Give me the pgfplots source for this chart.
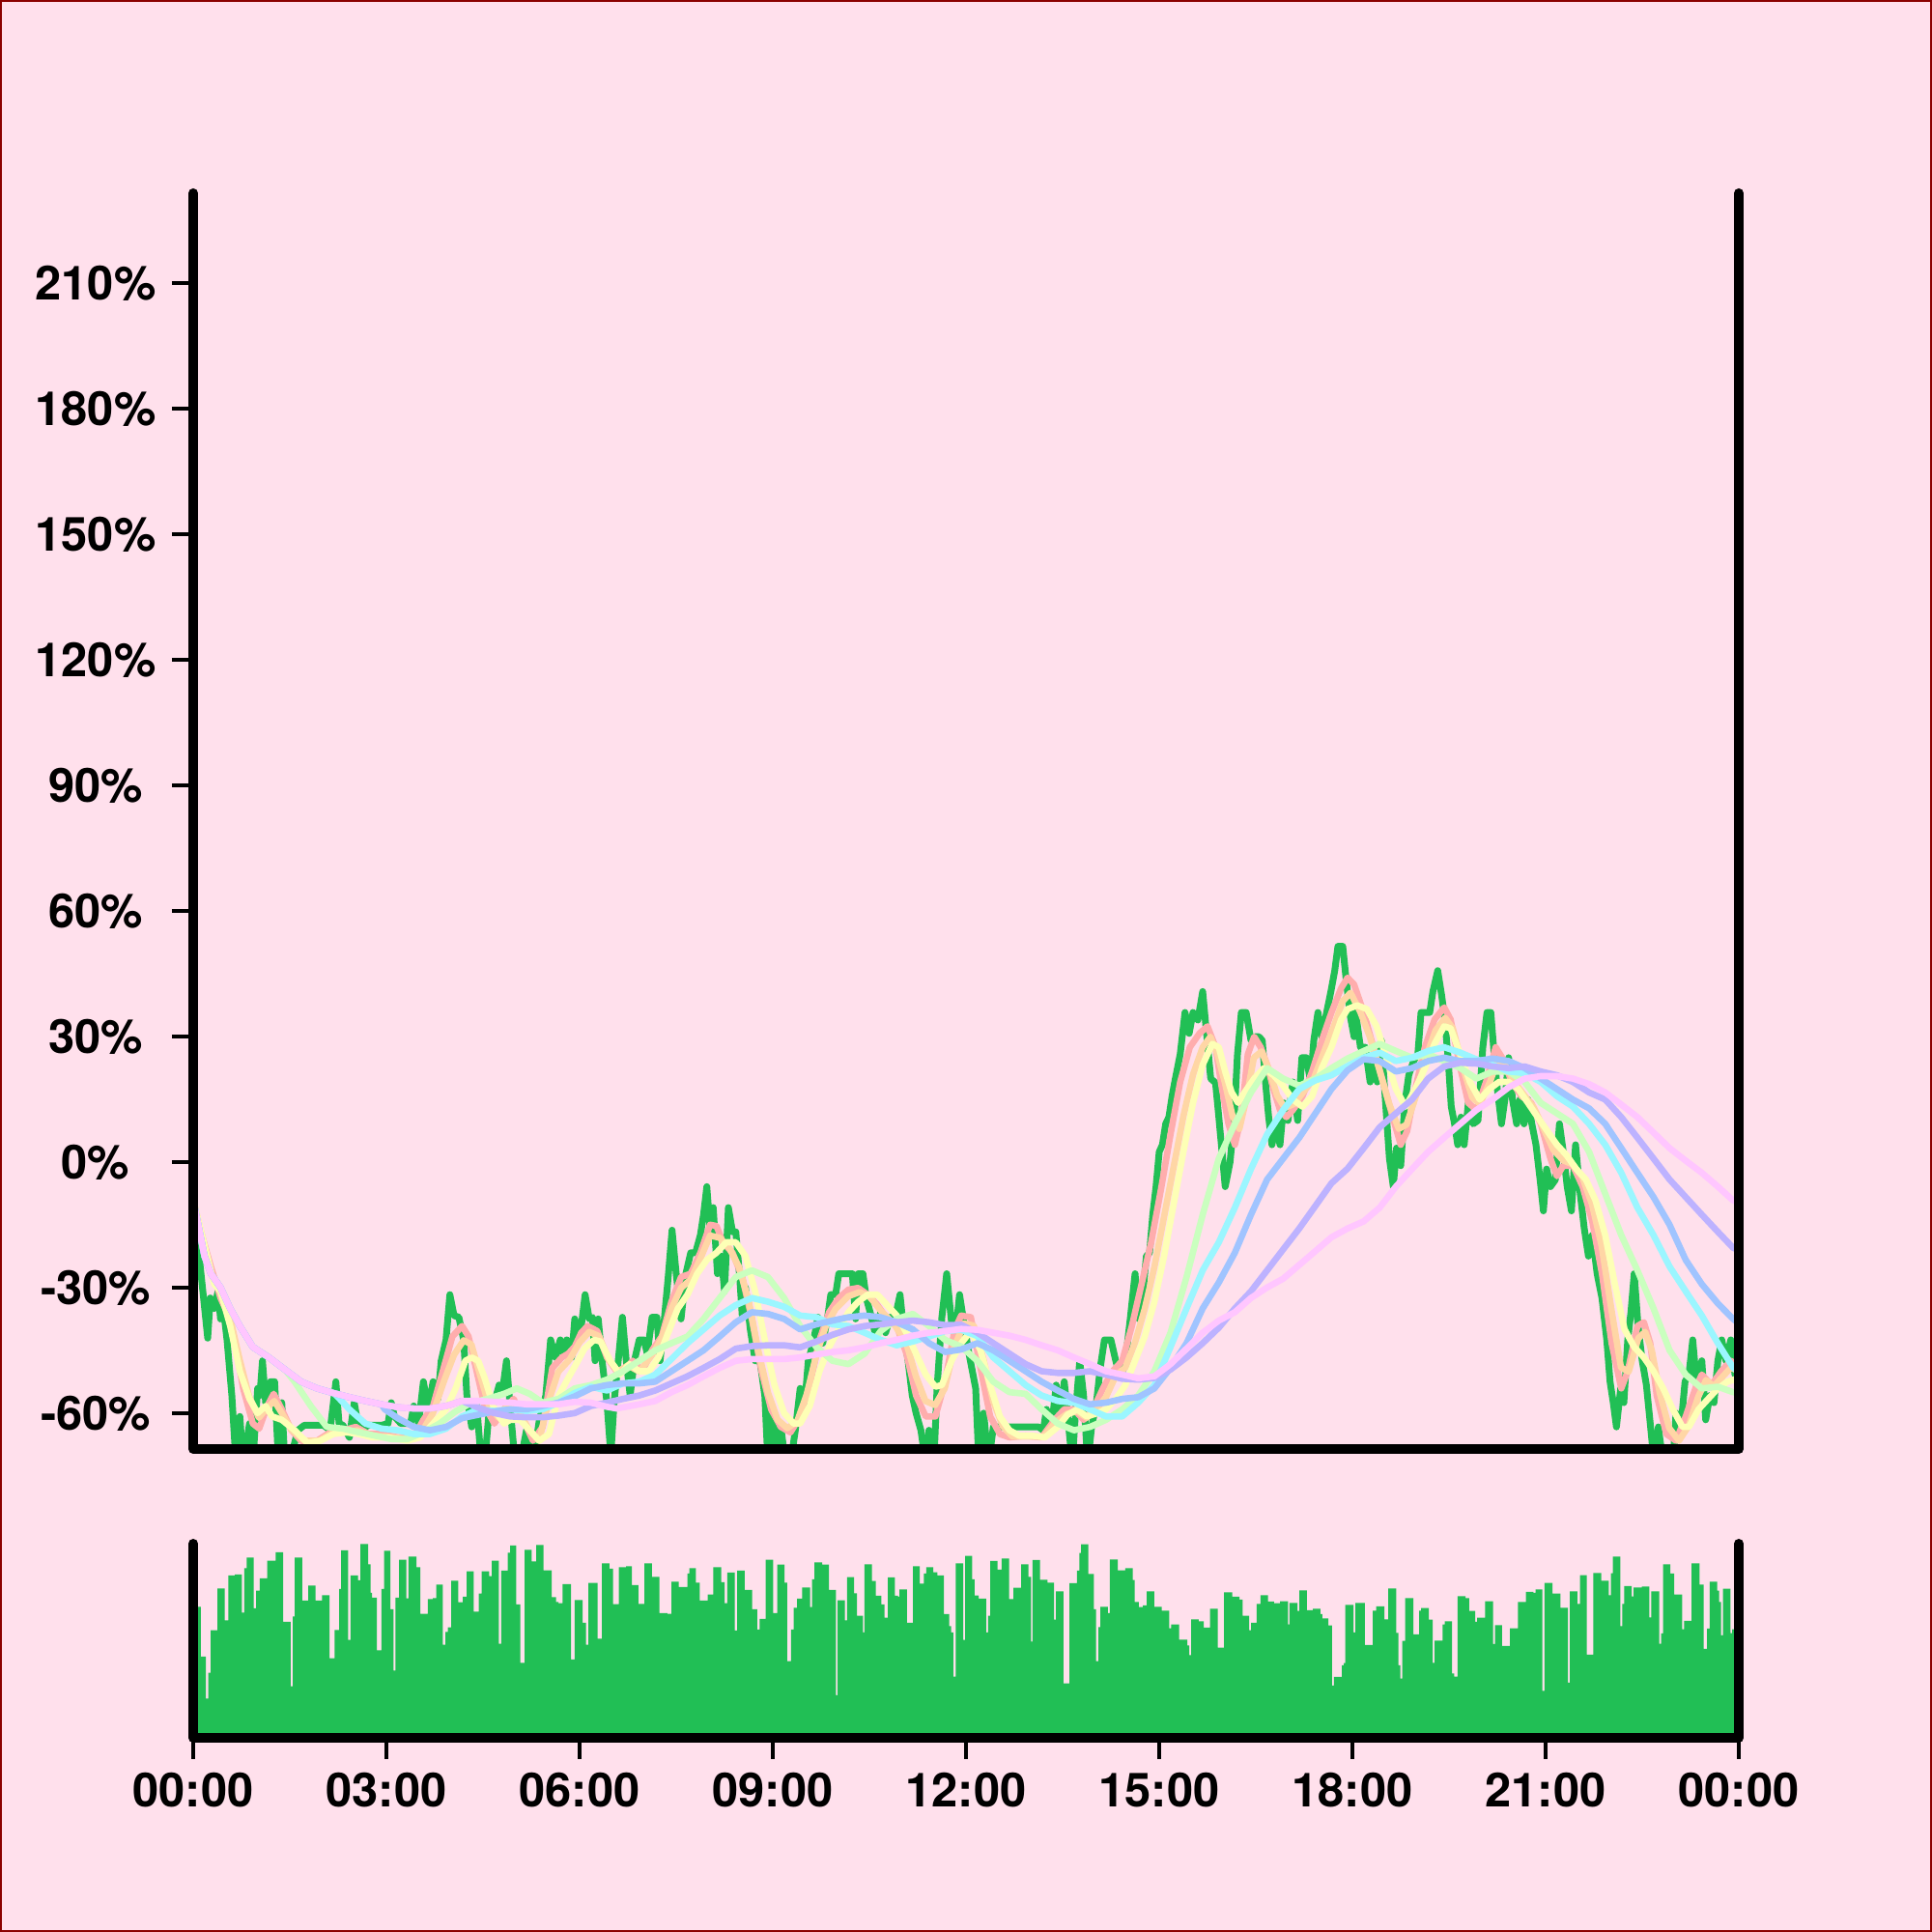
\documentclass[border=0pt]{standalone}
\usepackage{fontspec}
\setmainfont{TeX Gyre Heros}
\usepackage{pgfplots}
\pgfplotsset{compat=1.18}
\definecolor{bg}{HTML}{FFE0EC}
\definecolor{frame}{HTML}{8B0000}
\definecolor{pricegreen}{HTML}{21BF55}
\definecolor{maA}{HTML}{FFADAD}
\definecolor{maB}{HTML}{FFD6A5}
\definecolor{maC}{HTML}{FDFFB6}
\definecolor{maD}{HTML}{CAFFBF}
\definecolor{maE}{HTML}{9BF6FF}
\definecolor{maF}{HTML}{A0C4FF}
\definecolor{maG}{HTML}{BDB2FF}
\definecolor{maH}{HTML}{FFC6FF}
\newcommand{\lblfont}{\fontsize{12.2}{15}\selectfont\bfseries}
\pgfplotsset{ma/.style={line width=1.65pt, line join=round}}
\begin{document}
\begin{tikzpicture}
\useasboundingbox (0pt,0pt) rectangle (500pt,500pt);
\fill[bg] (0pt,0pt) rectangle (500pt,500pt);
\draw[frame, line width=0.5pt] (0.25pt,0.25pt) rectangle (499.75pt,499.75pt);
\begin{axis}[name=main, at={(50pt,125pt)}, anchor=south west, scale only axis,
  width=400pt, height=325pt, xmin=0, xmax=1600, ymin=-68.47, ymax=231.5,
  enlargelimits=false, axis line style={draw=none}, clip mode=individual,
  xtick=\empty, ytick={-60,-30,0,30,60,90,120,150,180,210},
  yticklabels={-60\%,-30\%,0\%,30\%,60\%,90\%,120\%,150\%,180\%,210\%},
  ytick pos=left, tick align=outside, major tick length=5.5pt,
  major tick style={line width=1pt, black},
  yticklabel style={font=\lblfont, anchor=center, xshift=-19.75pt}]
\addplot[pricegreen, line width=1.75pt, line join=round] coordinates {
(0,-9)(10,-30.8)(15,-42)(17.7,-32.4)(21.7,-34.9)(25.7,-30.8)(28.3,-37.4)(31.7,-35.8)(35,-42.4)(40,-55.7)(44.3,-72)(48.3,-60.7)(51.7,-72)(58.3,-62.4)(61.7,-72)(66.7,-54)(69,-55.7)(71.7,-47.4)(75,-57.4)(80,-52.4)(84.3,-52.4)(88.3,-72)(91.7,-57.4)(95,-72)(101.7,-70)(108.3,-64)(115,-62.8)(121.7,-62.8)(128.3,-62.8)(135,-62.8)(141.7,-64)(147.7,-52.4)(151,-62.4)(155,-62.8)(161.7,-65.7)(166.7,-57.4)(171.7,-64)(181.7,-62.8)(195,-62.8)(201.7,-62.4)(205,-57.4)(208.3,-60.7)(215,-62.4)(225,-62.4)(228.3,-58.2)(233.3,-62.4)(238.3,-52.4)(243.3,-59)(248.3,-52.4)(253.3,-56.5)(256.7,-47.4)(261.7,-42.4)(265.7,-31.6)(270,-36.6)(275,-37)(280,-42.4)(283.3,-55.7)(288.3,-63.2)(293.3,-57.4)(298.3,-72)(301.7,-72)(306.7,-58.2)(311.7,-57.4)(316.7,-53.2)(320,-54.9)(324.3,-47.4)(328.3,-59)(333.3,-72)(338.3,-72)(345,-64)(351.7,-72)(358.3,-61.5)(365,-55.7)(370,-42.4)(375,-46.6)(380,-42.4)(383.3,-45.7)(386.7,-42.4)(391.7,-46.6)(395,-37.4)(400,-42.4)(405.7,-31.6)(410,-37.4)(413.3,-37)(416,-47.4)(419.3,-37.4)(423.3,-47.4)(428.3,-57.4)(432.3,-70)(435.7,-57.4)(440,-47.4)(444.3,-37)(448.3,-47.4)(452.3,-55.7)(456.7,-47.4)(461.7,-42.4)(466.7,-42.4)(470,-45.7)(475,-37)(480,-37)(483.3,-47.4)(487.7,-37.4)(491.7,-27.4)(495.7,-16.2)(500,-26.6)(505,-37.4)(510,-26.6)(515,-21.6)(520,-21.6)(525,-17.4)(528.3,-12.5)(531.7,-5.8)(535,-15.8)(538.3,-10.8)(542.7,-26.6)(546.7,-22.4)(550,-30.8)(554,-10.8)(558.3,-16.6)(561.7,-16.6)(565.7,-27.4)(568.3,-36.6)(571.7,-29.9)(576.7,-39.9)(581.7,-47.4)(586.7,-47.4)(591.7,-55.7)(595,-72)(600,-59.9)(603.3,-72)(608.3,-63.2)(613.3,-72)(618.3,-72)(623.3,-64)(628.3,-54)(632.3,-59.9)(636.7,-47.4)(641.7,-43.2)(646.7,-37)(651.7,-43.2)(656.7,-37)(660,-31.6)(665,-31.6)(668.3,-26.6)(673.3,-26.6)(678.3,-26.6)(682.3,-26.6)(685.7,-37.4)(688.3,-26.6)(693.3,-26.6)(696.7,-32.4)(701.7,-36.6)(706.7,-41.6)(711.7,-35.8)(716.7,-40.7)(721.7,-37)(726.7,-37)(731.7,-31.6)(735.7,-40.7)(740,-47.4)(744.3,-55.7)(748.3,-59.9)(753.3,-64)(758.3,-72)(761.7,-64)(766.7,-72)(770,-54)(775,-37)(780,-26.6)(785,-38.2)(790,-39.1)(793.3,-31.6)(798.3,-39)(803.3,-46)(810,-54)(813.3,-72)(818.3,-59.9)(823.3,-72)(828.3,-63.2)(835,-63.2)(845,-63.2)(855,-63.2)(865,-63.2)(875,-63.2)(880,-64)(883.3,-59)(888.3,-64)(893.3,-53.2)(897.7,-60)(901.7,-52.4)(905,-60)(910,-72)(913.3,-60)(917.7,-47.4)(921.7,-55.7)(926,-72)(930,-63.2)(935,-57.4)(939,-49)(943.3,-42.4)(946.7,-42.4)(950,-42.4)(955,-47.4)(960,-51.5)(965,-47.4)(970,-37.4)(975,-26.6)(979,-37.4)(983.3,-30.8)(986.7,-22.4)(990,-21.6)(993.3,-12.5)(996.7,-5.8)(1000,2.5)(1003.3,4.2)(1006.7,9.2)(1010,10.8)(1013.3,15.8)(1016.7,20)(1021.7,25.8)(1026.7,35.8)(1031,30.8)(1035,35.8)(1040,34)(1045,40.8)(1049,30.8)(1053.3,20)(1058.3,19)(1061.7,10.8)(1065,2.5)(1068.3,-5.8)(1073.3,0)(1077.7,10.8)(1081,25.8)(1085,35.8)(1090,35.8)(1095,29.1)(1099,30)(1103.3,30)(1106.7,29.1)(1110,19.2)(1113.3,10.8)(1116.7,4.2)(1121,9.2)(1125,4.2)(1129,14.2)(1133.3,10)(1138.3,19.2)(1143.3,10)(1147.7,25)(1152.3,25)(1156.7,19.2)(1160,29.1)(1164.3,35.8)(1168.3,30)(1173.3,35.8)(1177.7,40.8)(1181.7,45.8)(1185,51.6)(1190,51.6)(1193.3,44.1)(1197.7,35)(1201.7,30)(1203.3,35.8)(1208.3,27.5)(1213.3,27.5)(1218.3,19.2)(1221.7,24.2)(1225.7,19.2)(1230,29.1)(1234.3,14.2)(1238.3,0.9)(1242.3,-5.8)(1245.7,3.4)(1250,-0.8)(1254.3,14.2)(1258.3,20.8)(1263.3,24.2)(1267.7,25.8)(1271,35.8)(1275,35.8)(1280,35.8)(1283.3,40.8)(1288.3,45.8)(1292.3,40)(1295.7,34.1)(1299,25)(1302.3,13.3)(1305.7,9.2)(1309,4.2)(1312.3,10.8)(1315.7,4.2)(1320,14.2)(1325,9.2)(1330,10)(1335,27.5)(1339.3,35.8)(1343.3,35.8)(1346.7,25.8)(1350,17.5)(1354.3,9.2)(1358.3,15.8)(1361.7,25)(1365.7,15)(1370,9.2)(1373.3,15)(1377.7,9.2)(1381.7,15)(1385.7,9.2)(1390,4.2)(1394.3,-4.2)(1397.7,-11.6)(1401,-1.6)(1405,-5.8)(1410,-4.2)(1414.3,9.2)(1418.3,2.5)(1422.3,-5.8)(1426.7,-11.6)(1431,4.2)(1435,-5.8)(1440,-15.8)(1444.3,-22.4)(1448.3,-17.4)(1453.3,-26.6)(1458.3,-32.4)(1463.3,-42.4)(1466.7,-52.4)(1470,-57.4)(1473.3,-63.2)(1477.7,-54)(1481,-57.4)(1485,-42.4)(1488.3,-35.8)(1491.7,-26.6)(1495.7,-39.1)(1500,-47.4)(1504.3,-53.2)(1508.3,-62.4)(1512.3,-72)(1516.7,-63.2)(1521.7,-72)(1526.7,-72)(1531.7,-72)(1535,-59.9)(1540,-63.2)(1544.3,-52.4)(1548.3,-50.7)(1552.3,-42.4)(1556.7,-54)(1561.7,-47.4)(1565.7,-61.5)(1570,-55.7)(1574.3,-57.4)(1578.3,-47.4)(1582.3,-42.4)(1586.7,-47.4)(1591.7,-42.4)(1596,-50.7)(1600,-51)
};
\addplot[maA, ma] coordinates {
(0,-9)(6,-15)(18.3,-24.9)(28.3,-32.4)(35,-35.8)(43.3,-43.2)(51.7,-54)(61.7,-62.4)(68.3,-63.6)(76.7,-58.2)(83.3,-55.3)(91.7,-59)(101.7,-64)(111.7,-66.5)(128.3,-66.5)(145,-64)(155,-64)(168.3,-63.2)(181.7,-64.9)(195,-64.9)(211.7,-65.7)(228.3,-65.7)(238.3,-61.5)(248.3,-58.2)(258.3,-49.9)(268.3,-41.6)(278.3,-39.1)(285,-41.6)(291.7,-48.2)(301.7,-58.2)(311.7,-62.4)(321.7,-59)(331.7,-56.5)(341.7,-61.5)(351.7,-66.5)(361.7,-63.2)(371.7,-49.1)(381.7,-46.6)(388.3,-45.7)(395,-44)(401.7,-40.7)(408.3,-39.1)(418.3,-40.3)(428.3,-46.6)(438.3,-49.9)(448.3,-49.1)(455,-47.4)(465,-49.9)(475,-44.9)(485,-41.6)(495,-33.3)(505,-27.4)(515,-26.6)(525,-21.6)(535,-14.9)(541.7,-15.2)(548.3,-19.1)(558.3,-21.6)(568.3,-27.4)(578.3,-37.4)(588.3,-49.9)(598.3,-59)(608.3,-63.2)(618.3,-64.5)(628.3,-60.7)(638.3,-53.2)(648.3,-42.4)(658.3,-35.8)(668.3,-32.4)(678.3,-30.4)(688.3,-30)(698.3,-31.6)(708.3,-34.1)(718.3,-37.4)(728.3,-39.1)(738.3,-45.7)(748.3,-55.7)(758.3,-60.7)(768.3,-60.7)(778.3,-52.4)(788.3,-39.9)(795,-36.6)(805,-37)(815,-49.1)(825,-60.7)(835,-64.9)(845,-65.7)(861.7,-65.3)(878.3,-65.7)(891.7,-61.5)(901.7,-59)(911.7,-59)(921.7,-61.5)(931.7,-59)(941.7,-54)(951.7,-49.9)(961.7,-47.4)(971.7,-39.1)(981.7,-29.1)(991.7,-19.1)(1001.7,-6.6)(1011.7,6.7)(1021.7,19.2)(1031.7,27.5)(1041.7,30.8)(1050,32.5)(1058.3,27.5)(1065,17.5)(1071.7,9.2)(1078.3,4.2)(1085,10.8)(1091.7,25.8)(1098.3,30)(1105,27.5)(1111.7,23.3)(1118.3,17.5)(1125,12.5)(1131.7,10.8)(1138.3,12.5)(1148.3,15.8)(1158.3,21.7)(1168.3,29.1)(1178.3,35.8)(1188.3,41.6)(1195,44.1)(1201.7,42.5)(1211.7,35.8)(1221.7,27.5)(1231.7,19.2)(1241.7,10.8)(1250,4.2)(1256.7,7.5)(1265,17.5)(1275,27.5)(1285,34.1)(1295,37)(1301.7,34.1)(1311.7,22.5)(1320,14.2)(1328.3,12.5)(1338.3,19.2)(1348.3,27.5)(1355,25)(1365,19.2)(1375,15.8)(1385,14.2)(1395,9.2)(1405,0.9)(1411.7,-3.3)(1418.3,-0.8)(1428.3,-0.8)(1438.3,-5.8)(1448.3,-14.1)(1458.3,-26.6)(1468.3,-43.2)(1478.3,-54)(1485,-49.9)(1495,-39.1)(1501.7,-38.2)(1508.3,-43.2)(1515,-55.7)(1525,-64.9)(1535,-66.5)(1545,-60.7)(1555,-54)(1561.7,-50.7)(1571.7,-53.2)(1581.7,-49.9)(1591.7,-47.4)(1600,-49)
};
\addplot[maB, ma] coordinates {
(0,-9)(18,-26)(28,-31)(38,-37)(48,-47)(58,-56)(68,-61)(77,-58.5)(84,-57)(92,-60)(102,-64)(115,-66.5)(130,-66.5)(145,-64.5)(158,-64.5)(170,-64)(185,-65.3)(200,-65.5)(220,-66)(235,-65)(248,-60)(260,-52)(270,-46)(280,-42.5)(288,-43.5)(296,-50)(306,-58)(316,-61)(326,-58)(336,-59)(348,-64)(358,-66.5)(368,-57)(378,-50)(390,-47)(400,-43)(410,-40.5)(420,-41.5)(430,-47)(440,-50)(450,-48.5)(462,-50)(475,-46)(485,-42)(495,-35)(505,-30)(515,-28)(525,-23)(535,-17.5)(545,-18)(555,-20.5)(565,-25)(575,-33)(585,-45)(595,-55)(605,-61.5)(615,-63.5)(625,-62)(635,-55.5)(645,-46)(655,-39)(665,-35)(678,-32)(690,-31)(700,-32)(712,-35.5)(725,-38.5)(738,-43)(748,-51)(758,-57)(768,-58)(778,-54)(788,-44)(798,-38.5)(808,-39)(818,-47)(828,-57)(838,-63)(848,-65.5)(865,-65.5)(880,-65.5)(893,-62)(905,-60)(915,-59.5)(925,-61)(935,-59)(945,-56)(955,-51)(965,-49)(975,-43)(985,-35)(995,-25)(1005,-13)(1015,-1)(1025,11)(1035,21)(1045,27.5)(1053,30)(1060,26)(1068,19)(1076,11)(1083,8)(1090,15)(1098,25)(1106,26.5)(1114,22)(1122,16)(1130,13)(1140,14)(1150,17)(1160,20)(1170,26)(1180,32)(1190,38.5)(1198,40.5)(1208,36)(1218,30)(1228,22)(1238,14)(1248,8)(1256,9)(1266,16)(1276,25)(1286,31.5)(1296,34.5)(1304,32)(1314,23)(1324,15.5)(1332,14)(1342,19)(1350,24)(1358,23.5)(1368,19)(1378,16)(1388,13)(1398,8)(1408,3)(1418,0.5)(1428,-0.5)(1438,-3.5)(1448,-10)(1458,-20)(1468,-35)(1478,-49)(1486,-50)(1496,-42)(1503,-40.5)(1510,-45)(1518,-55)(1528,-63.5)(1538,-66.5)(1548,-63)(1558,-56)(1566,-52)(1574,-53.5)(1584,-51)(1592,-49)(1600,-50)
};
\addplot[maC, ma] coordinates {
(0,-9)(21.7,-29.1)(28.3,-30.8)(38.3,-39.1)(48.3,-49.9)(58.3,-56.5)(66.7,-59.9)(75,-58.2)(81.7,-60.7)(91.7,-61.5)(105,-64)(118.3,-67)(131.7,-66.5)(145,-64.9)(158.3,-64.5)(171.7,-64.9)(185,-65.7)(201.7,-65.7)(221.7,-66.5)(235,-65.7)(248.3,-62.4)(261.7,-59)(271.7,-54)(281.7,-47.4)(288.3,-46.6)(295,-47.4)(301.7,-51.5)(311.7,-59)(321.7,-62.4)(328.3,-61.5)(338.3,-61.5)(348.3,-64)(358.3,-66.5)(368.3,-64.9)(378.3,-55.7)(388.3,-51.5)(398.3,-47.4)(405,-44.5)(415,-42.4)(421.7,-42.8)(431.7,-47.4)(441.7,-50.7)(451.7,-48.2)(461.7,-49.9)(471.7,-49.9)(481.7,-46.6)(491.7,-40.7)(501.7,-34.9)(511.7,-31.6)(521.7,-26.6)(531.7,-23.3)(541.7,-21.6)(551.7,-19.1)(561.7,-19.1)(571.7,-22.4)(581.7,-30.8)(591.7,-42.4)(601.7,-53.2)(611.7,-59.9)(621.7,-62.4)(628.3,-62.4)(638.3,-58.2)(648.3,-49.9)(658.3,-44.1)(668.3,-39.9)(678.3,-35.8)(688.3,-33.3)(698.3,-31.6)(708.3,-31.6)(718.3,-34.1)(728.3,-36.6)(738.3,-40.7)(748.3,-45.7)(758.3,-50.7)(768.3,-53.6)(775,-53.2)(785,-47.4)(795,-43.2)(805,-40.3)(815,-44.9)(825,-53.2)(835,-60.7)(845,-64)(855,-65.3)(868.3,-65.3)(881.7,-65.7)(895,-63.2)(905,-60.3)(915,-59)(925,-60.7)(935,-60)(945,-59)(955,-56.5)(965,-53.2)(975,-47.4)(985,-41.6)(995,-33.3)(1005,-22.4)(1015,-9.9)(1025,2.5)(1035,14.2)(1045,23.3)(1055,28.3)(1061.7,27.5)(1068.3,21.7)(1075,16.7)(1081.7,14.2)(1088.3,16.7)(1098.3,20)(1108.3,22.5)(1118.3,20.8)(1128.3,18.3)(1138.3,15)(1148.3,13.3)(1158.3,15.8)(1168.3,22.5)(1178.3,27.5)(1188.3,34.1)(1195,36.6)(1205,37.5)(1215,36.6)(1225,32.5)(1235,25)(1245,17.5)(1255,13.3)(1265,17.5)(1275,22.5)(1285,28.3)(1295,32.5)(1301.7,32)(1311.7,25.8)(1321.7,19.2)(1331.7,15)(1341.7,17.5)(1351.7,19.2)(1361.7,19.2)(1371.7,17.5)(1381.7,14.2)(1391.7,10.8)(1401.7,7.5)(1411.7,4.2)(1421.7,1.7)(1431.7,-1.6)(1441.7,-4.1)(1451.7,-9.1)(1461.7,-17.4)(1471.7,-29.1)(1481.7,-39.9)(1491.7,-44.1)(1501.7,-46.6)(1511.7,-49.9)(1521.7,-54)(1531.7,-59)(1541.7,-63.2)(1548.3,-63.2)(1558.3,-59)(1568.3,-56.5)(1578.3,-54)(1588.3,-52.4)(1600,-51.5)
};
\addplot[maD, ma] coordinates {
(0,-9)(11.7,-22.4)(18.3,-26.6)(28.3,-29.9)(38.3,-34.9)(48.3,-39.1)(61.7,-44.1)(78.3,-46.6)(95,-49.5)(105,-52.4)(121.7,-58.2)(138.3,-63.2)(155,-63.6)(171.7,-64.5)(188.3,-65.3)(205,-66.1)(221.7,-66.1)(238.3,-64.5)(255,-62.4)(271.7,-59.5)(288.3,-57.4)(305,-56.5)(321.7,-55.3)(335,-54)(348.3,-55.3)(361.7,-57.4)(378.3,-56.5)(395,-54)(411.7,-53.2)(428.3,-51.9)(445,-49.9)(461.7,-47.4)(478.3,-44.9)(495,-43.2)(511.7,-41.6)(528.3,-37.4)(545,-32.4)(561.7,-27.4)(578.3,-25.8)(595,-27.4)(611.7,-32.4)(628.3,-39.1)(645,-44.1)(661.7,-47.4)(678.3,-48.2)(695,-45.7)(711.7,-40.3)(728.3,-37.4)(745,-36.2)(761.7,-39.1)(778.3,-42.4)(795,-44)(811.7,-47.4)(828.3,-52.4)(845,-54.9)(861.7,-55.3)(878.3,-59)(895,-62.4)(911.7,-64)(928.3,-63.2)(945,-61.5)(961.7,-59)(978.3,-55.7)(995,-49.9)(1011.7,-40.7)(1028.3,-27.4)(1045,-12.5)(1061.7,0.9)(1078.3,9.2)(1095,16.7)(1111.7,22.5)(1128.3,20)(1145,18.3)(1161.7,20)(1178.3,22.5)(1195,24.8)(1211.7,26.6)(1228.3,28.3)(1245,26.6)(1261.7,25)(1278.3,25.8)(1295,24.2)(1311.7,22.5)(1328.3,20)(1345,21.7)(1361.7,21.7)(1378.3,19.2)(1395,14.2)(1411.7,11.7)(1428.3,9.2)(1445,2.5)(1461.7,-7.5)(1478.3,-17.4)(1495,-25.8)(1511.7,-34.9)(1528.3,-44.9)(1545,-50.7)(1561.7,-54)(1578.3,-53.6)(1594,-54.9)(1600,-55)
};
\addplot[maE, ma] coordinates {
(0,-9)(11.7,-22.4)(18.3,-26.6)(28.3,-29.9)(38.3,-34.9)(48.3,-39.1)(61.7,-44.1)(78.3,-46.6)(95,-49.5)(111.7,-52.4)(128.3,-54)(145,-55.1)(148.3,-55.7)(161.7,-59)(178.3,-62.4)(195,-63.6)(211.7,-64)(228.3,-64.9)(245,-64.9)(261.7,-63.6)(278.3,-60.7)(295,-59)(311.7,-59.4)(328.3,-59)(345,-59.4)(361.7,-59)(378.3,-57.4)(395,-55.1)(411.7,-53.6)(428.3,-54.5)(445,-52.8)(461.7,-52.4)(478.3,-50.7)(495,-47)(511.7,-43.2)(528.3,-39.9)(545,-36.6)(561.7,-34.1)(578.3,-32.4)(595,-33.3)(611.7,-34.5)(628.3,-36.6)(645,-37)(661.7,-38.7)(678.3,-39.1)(695,-40.7)(711.7,-42.4)(728.3,-43.7)(745,-42.8)(761.7,-41.6)(778.3,-40.3)(795,-40)(811.7,-41.5)(828.3,-46.6)(845,-49.9)(861.7,-53.2)(878.3,-55.7)(895,-57)(911.7,-57.4)(928.3,-59)(945,-60.7)(961.7,-60.7)(978.3,-57.4)(995,-53.2)(1011.7,-44.1)(1028.3,-34.9)(1045,-25.8)(1061.7,-19.1)(1078.3,-10.8)(1095,-1.6)(1111.7,6.7)(1128.3,12.5)(1145,17.5)(1161.7,19.6)(1178.3,20.8)(1195,23)(1211.7,25)(1228.3,26.2)(1245,24.2)(1261.7,25)(1278.3,26.6)(1295,27.5)(1311.7,26.2)(1328.3,24.6)(1345,23.3)(1361.7,21.7)(1378.3,21.3)(1395,19.2)(1411.7,15.8)(1428.3,13.3)(1445,9.2)(1461.7,4.2)(1478.3,-2.5)(1495,-10.8)(1511.7,-17.4)(1528.3,-24.9)(1545,-30.8)(1561.7,-36.6)(1578.3,-43.2)(1594,-49)(1600,-50)
};
\addplot[maF, ma] coordinates {
(0,-9)(11.7,-22.4)(18.3,-26.6)(28.3,-29.9)(38.3,-34.9)(48.3,-39.1)(61.7,-44.1)(78.3,-46.6)(95,-49.5)(111.7,-52.4)(128.3,-54)(145,-55.1)(161.7,-56.1)(178.3,-57)(195,-57.8)(198.3,-59)(211.7,-61.1)(228.3,-63.2)(245,-64)(261.7,-63.2)(278.3,-61.1)(295,-60.3)(311.7,-59.5)(328.3,-59)(345,-59)(361.7,-58.2)(378.3,-57.4)(395,-55.9)(411.7,-54)(428.3,-53.2)(445,-52.8)(461.7,-52.8)(478.3,-52.4)(495,-49.9)(511.7,-47.4)(528.3,-44.9)(545,-41.6)(561.7,-38.2)(578.3,-35.8)(595,-36.2)(611.7,-37.4)(628.3,-39.9)(645,-38.7)(661.7,-37.8)(678.3,-37)(695,-36.6)(711.7,-37)(728.3,-38.2)(745,-39.9)(761.7,-43.2)(778.3,-45.3)(795,-44.7)(811.7,-43.2)(828.3,-44.9)(845,-47.4)(861.7,-49.9)(878.3,-52.4)(895,-54.5)(911.7,-56.5)(928.3,-57.8)(945,-57.4)(961.7,-56.5)(978.3,-56.1)(995,-54)(1011.7,-49.1)(1028.3,-43.2)(1045,-34.9)(1061.7,-28.7)(1078.3,-21.6)(1095,-12.5)(1111.7,-4.1)(1128.3,0.9)(1145,5.9)(1161.7,11.7)(1178.3,17.5)(1195,22)(1211.7,24.6)(1228.3,24.2)(1245,21.7)(1261.7,22.5)(1278.3,24.2)(1295,25)(1311.7,24.2)(1328.3,24.2)(1345,24.8)(1361.7,24.2)(1378.3,22.5)(1395,20)(1411.7,17.5)(1428.3,15)(1445,12.9)(1461.7,9.2)(1478.3,3.4)(1495,-2.5)(1511.7,-8.3)(1528.3,-14.9)(1545,-23.3)(1561.7,-29.1)(1578.3,-33.7)(1594,-37.4)(1600,-38.5)
};
\addplot[maG, ma] coordinates {
(0,-9)(11.7,-22.4)(18.3,-26.6)(28.3,-29.9)(38.3,-34.9)(48.3,-39.1)(61.7,-44.1)(78.3,-46.6)(95,-49.5)(111.7,-52.4)(128.3,-54)(145,-55.1)(161.7,-56.1)(178.3,-57)(195,-57.8)(211.7,-58.5)(228.3,-58.8)(245,-58.8)(261.7,-58.2)(278.3,-57)(295,-58.6)(311.7,-59.9)(328.3,-60.7)(345,-60.9)(361.7,-60.9)(378.3,-60.5)(395,-59.9)(411.7,-58.2)(428.3,-57.4)(445,-56.5)(461.7,-55.7)(478.3,-54.5)(495,-52.8)(511.7,-51.1)(528.3,-49.1)(545,-47)(561.7,-44.5)(578.3,-43.9)(595,-43.7)(611.7,-43.7)(628.3,-44.2)(645,-42.8)(661.7,-41.2)(678.3,-39.9)(695,-39.1)(711.7,-38.7)(728.3,-38.2)(745,-37.8)(761.7,-38.2)(778.3,-38.9)(795,-38.8)(811.7,-40.7)(828.3,-43.2)(845,-45.7)(861.7,-48.2)(878.3,-49.9)(895,-50.3)(911.7,-50.3)(928.3,-49.9)(945,-50.7)(961.7,-51.7)(978.3,-51.9)(995,-51.5)(1011.7,-49.5)(1028.3,-46.6)(1045,-43.2)(1061.7,-39.5)(1078.3,-34.9)(1095,-30.8)(1111.7,-25.8)(1128.3,-20.8)(1145,-15.8)(1161.7,-10.4)(1178.3,-5)(1195,-1.5)(1211.7,3.4)(1228.3,8.4)(1245,11.7)(1261.7,15)(1278.3,20)(1295,22.9)(1311.7,23.8)(1328.3,23.6)(1345,22.9)(1361.7,22.5)(1378.3,22.9)(1395,21.7)(1411.7,20.8)(1428.3,19.2)(1445,16.7)(1461.7,15)(1478.3,10.8)(1495,5.9)(1511.7,0.9)(1528.3,-4.1)(1545,-8.3)(1561.7,-12.5)(1578.3,-16.6)(1594,-20.4)(1600,-21)
};
\addplot[maH, ma] coordinates {
(0,-9)(11.7,-22.4)(18.3,-26.6)(28.3,-29.9)(38.3,-34.9)(48.3,-39.1)(61.7,-44.1)(78.3,-46.6)(95,-49.5)(111.7,-52.4)(128.3,-54)(145,-55.1)(161.7,-56.1)(178.3,-57)(195,-57.8)(211.7,-58.5)(228.3,-58.8)(245,-58.8)(261.7,-58.2)(278.3,-57)(295,-57)(311.7,-57.2)(328.3,-57.4)(345,-57.8)(361.7,-57.8)(378.3,-57.8)(395,-57.2)(411.7,-57.4)(428.3,-58.4)(438.3,-58.8)(461.7,-57.8)(478.3,-57)(495,-54.9)(511.7,-53.2)(528.3,-51.1)(545,-49.1)(561.7,-47.4)(578.3,-47)(595,-47)(611.7,-47)(628.3,-46.6)(645,-45.9)(661.7,-45.3)(678.3,-44.9)(695,-44.2)(711.7,-43.2)(728.3,-42.4)(745,-41.4)(761.7,-40.7)(778.3,-40.3)(795,-39.8)(811.7,-40)(828.3,-40.7)(845,-41.4)(861.7,-42.4)(878.3,-43.7)(895,-44.9)(911.7,-46.6)(928.3,-48.2)(945,-49.9)(961.7,-50.7)(978.3,-51.6)(995,-51.1)(1011.7,-48.2)(1028.3,-44.5)(1045,-40.7)(1061.7,-37.8)(1078.3,-35.8)(1095,-32.4)(1111.7,-29.9)(1128.3,-27.8)(1145,-24.5)(1161.7,-21.2)(1178.3,-17.9)(1195,-15.8)(1211.7,-14.1)(1228.3,-10.8)(1245,-5.8)(1261.7,-1.6)(1278.3,2.5)(1295,5.9)(1311.7,9.2)(1328.3,12.5)(1345,15)(1361.7,17.9)(1378.3,20)(1395,20.6)(1411.7,20.6)(1428.3,20)(1445,18.7)(1461.7,16.7)(1478.3,13.8)(1495,10.8)(1511.7,7.1)(1528.3,3.4)(1545,0.4)(1561.7,-2.5)(1578.3,-5.8)(1594,-9.1)(1600,-9.6)
};
\end{axis}
\begin{axis}[name=vol, at={(50pt,50.25pt)}, anchor=south west, scale only axis,
  width=400pt, height=50.25pt, xmin=0, xmax=1600, ymin=0, ymax=201,
  enlargelimits=false, axis line style={draw=none}, clip mode=individual,
  ytick=\empty, xtick={0,200,400,600,800,1000,1200,1400,1600},
  xticklabels={00:00,03:00,06:00,09:00,12:00,15:00,18:00,21:00,00:00},
  xtick pos=bottom, tick align=outside, major tick length=5.5pt,
  major tick style={line width=1pt, black},
  xticklabel style={font=\lblfont}]
\addplot[const plot, fill=pricegreen, draw=none] coordinates {
(0,135.7)(7.9,84)(13.1,40.7)(15.7,67.3)(18.2,111.3)(25,154.7)(32.7,121.7)(36.3,168)(43,169)(50.3,129.7)(52.8,175.7)(55.4,186.7)(62.7,134)(65.2,152.3)(68.9,165)(76.6,183.3)(85.4,192)(93.1,120)(100.9,53.3)(103,125.7)(105,186.7)(112.8,142)(119,157.7)(126.7,142)(133.4,147.7)(141.2,82.3)(146.3,111.7)(151,154)(153,194)(160.3,101.3)(162.9,168)(170.6,163)(173.2,200.7)(181,179.7)(183.5,150)(185.1,145)(190.2,90.7)(194.9,154)(197.5,193.7)(204.2,133)(207.3,69.7)(209.3,145)(213,184.3)(220.7,144.3)(222.8,187.7)(231,176.7)(235.2,128.3)(242.9,143.7)(248.1,144.7)(251.7,158.7)(258.4,96.3)(261,109.7)(263.6,114.3)(267.2,162.7)(274.4,140.3)(279.1,146)(283.2,172.3)(290.4,130.7)(295.6,149.3)(298.7,172.3)(306.4,167.3)(309,183.3)(316.3,97.3)(318.8,173)(325.6,191.7)(328.1,199)(334.3,138)(338.5,77.7)(343.1,194.7)(350.4,182.7)(355,199.7)(362.7,173.3)(371,145.7)(375.7,140.7)(378.2,139.3)(382.4,159)(391.2,81)(394.8,142.7)(403,119)(406.7,96.3)(409.2,160.3)(418.5,102.7)(423.2,180.7)(430.9,175)(434.5,138.3)(440.7,176.7)(448,177.7)(454.2,158)(460.9,138.7)(467.1,180.7)(474.8,166.7)(482.6,129)(490.8,128.3)(495,161.7)(502.7,156)(511.5,170)(513.6,175.7)(520.3,160.7)(524.4,142)(532.7,148.3)(538.4,176.7)(546.6,161)(550.2,139.3)(552.8,171)(560.6,111)(563.2,173)(570.9,153)(578.6,133)(583.8,112)(586.4,123)(592.6,184.3)(600.3,129)(604.5,179.3)(612.2,160.7)(614.8,79.3)(618.9,112)(621.5,134.7)(625.1,144)(630.3,155.7)(638.6,135.3)(640.6,164)(643.2,181.7)(651,179.3)(658.2,153)(665.4,44)(667,142.3)(674.7,121.7)(676.8,166.3)(684,149.7)(687.1,126.3)(693.3,109)(694.9,179.7)(702.6,162.3)(706.7,147)(712.4,138)(715.5,124.3)(719.1,166)(726.4,147)(729.5,146)(731,153.7)(738.8,119)(745,177.7)(752.2,159.7)(756.3,170)(758.9,176.7)(766.1,171.3)(770.3,168)(777,128)(782.7,115.7)(784.7,109)(786.8,63.3)(789.4,180.7)(797,101.3)(799.1,188.3)(806.4,164)(808.9,147.3)(813.1,144)(820.8,109)(822.9,126.3)(825,183)(832.7,174)(836.8,185.7)(844.6,143.7)(849.2,155.3)(857,179.7)(864.7,166.7)(867.3,99.7)(868.9,184)(876.6,163.7)(884.4,160.7)(891.1,122.3)(893.1,151.7)(900.9,56.3)(907.1,160)(914.8,173)(917.4,191.3)(919,200.3)(926.7,169.7)(932.4,133)(934.5,79.3)(937,114.7)(939.1,135.7)(946.9,129)(948.9,184.7)(957.2,173.3)(964.9,175.7)(972.7,163.3)(974.7,140.7)(978.9,135.3)(983,137)(987.1,151.7)(994.9,135.7)(1002.6,131.7)(1010.4,113.3)(1012.4,117.3)(1020.7,101.7)(1029,95.7)(1031,85.7)(1033.1,122.7)(1040.9,120.7)(1046,114)(1052.7,133.7)(1060.5,93.3)(1067.2,150.7)(1075.5,146)(1083.2,143)(1086.3,126.3)(1093,111.3)(1095.1,119)(1100.8,138.7)(1104.9,147.7)(1112.6,141)(1118.8,139.3)(1125,141.3)(1133.3,117.3)(1134.9,139.7)(1143.1,131.3)(1145.2,152.7)(1152.9,132)(1159.1,133.7)(1166.9,128)(1168.9,123.7)(1175.1,116.3)(1178.8,54)(1180.8,63)(1189.1,75)(1191.2,77.3)(1192.7,137.7)(1201,109)(1203,139.7)(1212.8,96)(1221.1,131.7)(1224.7,136)(1233,122.7)(1237.1,154.7)(1245.4,108.7)(1247.5,75)(1249.5,61.3)(1251.6,100.3)(1254.7,144.7)(1263,107)(1269.1,131.7)(1271.2,134.3)(1279,122.3)(1283.1,77.7)(1285.2,100.7)(1293.4,117.3)(1295.5,120.7)(1303.2,66.7)(1305.3,63.3)(1308.9,146.7)(1317.2,144.7)(1320.8,131.3)(1327,120)(1329.1,124.3)(1337.3,141.3)(1345.6,97)(1347.7,116.7)(1354.9,95)(1363.2,113.3)(1371.4,140.7)(1379.7,151)(1387.4,150)(1389.5,153.7)(1396.7,48.7)(1398.8,160.3)(1407.1,149.3)(1415.3,134.7)(1423.1,57)(1425.1,151.7)(1432.9,138.7)(1435.5,168.3)(1442.7,86)(1449.4,170.7)(1457.7,162.7)(1465.4,147.7)(1467.5,170.3)(1469.5,187.7)(1477.3,115.7)(1479.4,138.7)(1481.4,157)(1489.2,146.3)(1491.2,155.7)(1499.5,156.7)(1507.3,124.7)(1509.3,151.7)(1517.6,97.3)(1519.7,108)(1521.7,179.7)(1529,170)(1533.1,148.3)(1541.3,112.3)(1543.4,121)(1551.1,180.7)(1559.4,158.7)(1563.5,92)(1567.2,113)(1569.8,161.7)(1577.5,152.3)(1579.6,140.7)(1581.6,106)(1583.7,154.3)(1591.4,108.3)(1593,112.3)(1600,112.3)
} \closedcycle;
\end{axis}
\draw[line width=2.5pt, line cap=round, line join=round] (main.north west) -- (main.south west) -- (main.south east) -- (main.north east);
\draw[line width=2.5pt, line cap=round, line join=round] (vol.north west) -- (vol.south west) -- (vol.south east) -- (vol.north east);
\end{tikzpicture}
\end{document}
